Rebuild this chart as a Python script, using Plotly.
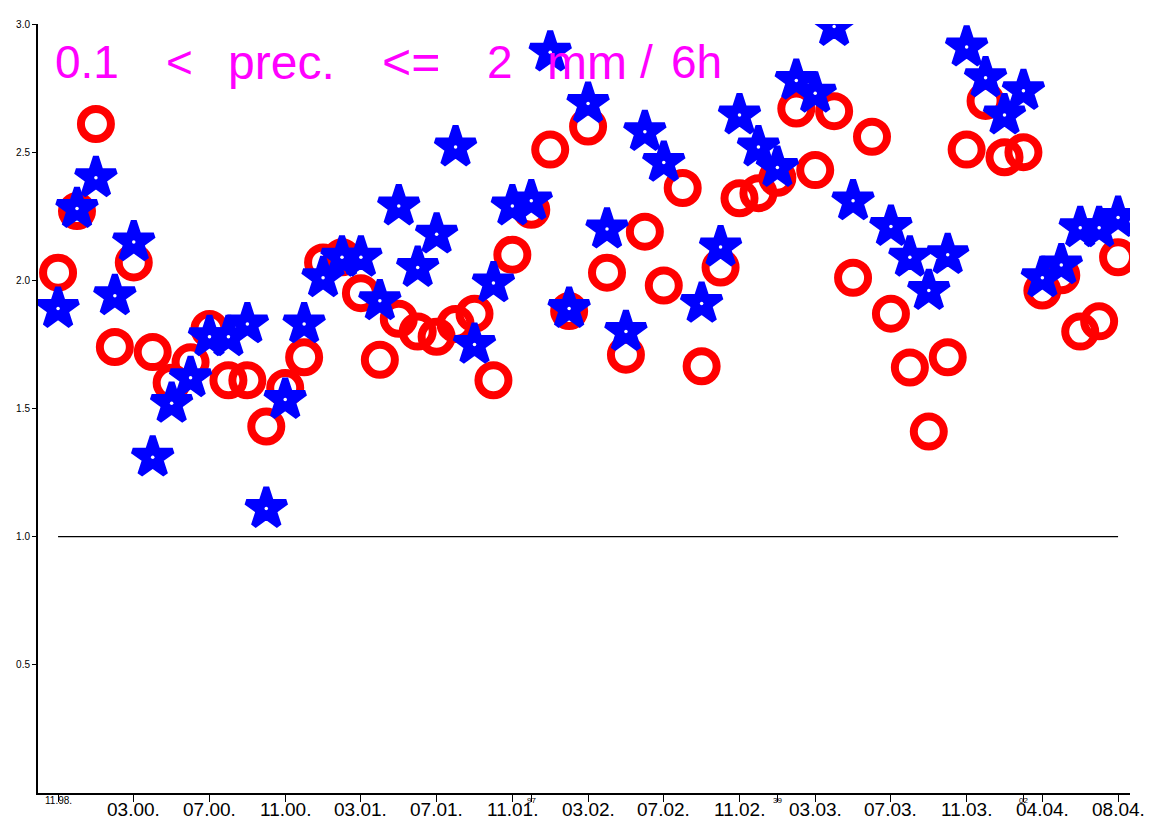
import plotly.graph_objects as go

# ---- data ----
month_index = list(range(57))

red_circles = [2.03, 2.27, 2.61, 1.74, 2.07, 1.72, 1.60, 1.68, 1.81, 1.61,
               1.61, 1.43, 1.58, 1.70, 2.07, 2.09, 1.95, 1.69, 1.85, 1.80,
               1.78, 1.83, 1.87, 1.61, 2.10, 2.275, 2.51, 1.88, 2.60, 2.03,
               1.71, 2.19, 1.98, 2.36, 1.665, 2.05, 2.32, 2.34, 2.40, 2.67,
               2.43, 2.66, 2.01, 2.56, 1.87, 1.66, 1.41, 1.70, 2.51, 2.70,
               2.48, 2.50, 1.96, 2.02, 1.80, 1.84, 2.09]

blue_stars = [1.89, 2.28, 2.40, 1.94, 2.15, 1.31, 1.52, 1.62, 1.78, 1.78,
              1.83, 1.11, 1.535, 1.83, 2.01, 2.09, 2.09, 1.92, 2.29, 2.05,
              2.18, 2.52, 1.75, 1.99, 2.29, 2.31, 2.89, 1.89, 2.69, 2.20,
              1.80, 2.58, 2.46, None, 1.91, 2.13, 2.645, 2.52, 2.44, 2.78,
              2.73, 2.99, 2.31, None, 2.21, 2.09, 1.96, 2.10, 2.91, 2.79,
              2.645, 2.74, 2.01, 2.06, 2.205, 2.205, 2.245]

x_tick_idx = [4, 8, 12, 16, 20, 24, 28, 32, 36, 40, 44, 48, 52, 56]
x_tick_labels = ["03.00.", "07.00.", "11.00.", "03.01.", "07.01.", "11.01.",
                 "03.02.", "07.02.", "11.02.", "03.03.", "07.03.", "11.03.",
                 "04.04.", "08.04."]
small_tick_idx = [0, 25, 38, 51]
small_tick_labels = ["11.98.", "97", "39", "02"]
small_tick_font = [10, 8, 8, 8]

y_tick_vals = [0.5, 1.0, 1.5, 2.0, 2.5, 3.0]
y_tick_labels = ["0.5", "1.0", "1.5", "2.0", "2.5", "3.0"]

ref_level = 1.0
title_tokens = ["0.1", "<", "prec.", "<=", "2", "mm", "/", "6h"]
title_token_px = [53, 164, 226, 380, 485, 545, 638, 669]
title_token_size = [46, 46, 48, 50, 46, 48, 46, 46]

# ---- layout geometry ----
W, H = 1150, 819
ML, MR, MT, MB = 38, 20, 24, 26
PW, PH = W - ML - MR, H - MT - MB


def px_to_paper_x(px):
    return (px - ML) / PW


def py_to_paper_y(py):
    return (H - MB - py) / PH


fig = go.Figure()

fig.add_trace(go.Scatter(
    x=month_index, y=red_circles, mode="markers",
    marker=dict(symbol="circle-open", size=30, color="#FF0000",
                line=dict(width=8, color="#FF0000")),
    showlegend=False, hoverinfo="skip"))

fig.add_trace(go.Scatter(
    x=month_index, y=blue_stars, mode="markers",
    marker=dict(symbol="star", size=30, color="#0000FF",
                line=dict(width=6, color="#0000FF")),
    showlegend=False, hoverinfo="skip"))

# the small white centre of each star
fig.add_trace(go.Scatter(
    x=month_index, y=blue_stars, mode="markers",
    marker=dict(symbol="circle", size=3.5, color="white",
                line=dict(width=0)),
    showlegend=False, hoverinfo="skip"))

# reference line at 1.0 across the data range
fig.add_shape(type="line", xref="x", yref="y",
              x0=month_index[0], x1=month_index[-1], y0=ref_level, y1=ref_level,
              line=dict(color="black", width=1.2), layer="below")

annotations = []
for tok, px, fs in zip(title_tokens, title_token_px, title_token_size):
    annotations.append(dict(
        text=tok, xref="paper", yref="paper",
        x=px_to_paper_x(px), y=py_to_paper_y(62),
        xanchor="left", yanchor="middle", showarrow=False,
        font=dict(family="Liberation Sans", size=fs, color="#FF00FF")))

# x tick labels (drawn as text so they sit just under the ticks)
for idx, lab in zip(x_tick_idx, x_tick_labels):
    annotations.append(dict(
        text=lab, xref="x", yref="paper", x=idx, y=py_to_paper_y(809),
        xanchor="center", yanchor="middle", showarrow=False,
        font=dict(family="Liberation Sans", size=19, color="black")))

for idx, lab, fs in zip(small_tick_idx, small_tick_labels, small_tick_font):
    annotations.append(dict(
        text=lab, xref="x", yref="paper", x=idx, y=py_to_paper_y(800),
        xanchor="center", yanchor="middle", showarrow=False,
        font=dict(family="Liberation Sans", size=fs, color="black")))

fig.update_layout(
    width=W, height=H,
    margin=dict(l=ML, r=MR, t=MT, b=MB, autoexpand=False),
    paper_bgcolor="white", plot_bgcolor="white",
    annotations=annotations,
    xaxis=dict(range=[-1.06, 56.63], showgrid=False, zeroline=False,
               showline=True, linecolor="black", linewidth=1.5,
               ticks="outside", ticklen=7, tickcolor="black", tickwidth=1,
               tickvals=x_tick_idx + small_tick_idx, showticklabels=False,
               automargin=False),
    yaxis=dict(range=[0, 3], showgrid=False, zeroline=False,
               showline=True, linecolor="black", linewidth=2,
               ticks="outside", ticklen=4, tickcolor="black", tickwidth=1,
               tickvals=y_tick_vals, ticktext=y_tick_labels, automargin=False,
               tickfont=dict(family="Liberation Sans", size=10, color="black")),
)

fig.write_html("out.html")
